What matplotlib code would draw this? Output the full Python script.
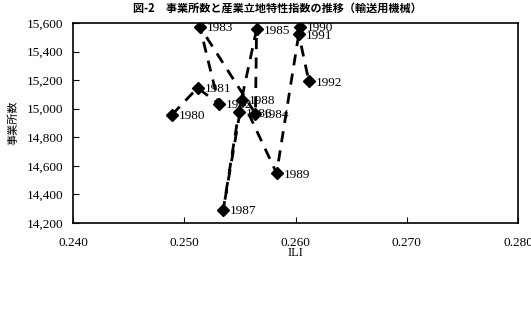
import matplotlib
matplotlib.use("Agg")
import matplotlib.pyplot as plt
from matplotlib.ticker import FuncFormatter

plt.rcParams['font.family'] = ['Liberation Serif', 'Noto Sans CJK JP']

# 年ごとの ILI と事業所数
years = [1980, 1981, 1982, 1983, 1984, 1985, 1986, 1987, 1988, 1989, 1990, 1991, 1992]
ili = [0.2489, 0.2512, 0.2531, 0.2514, 0.2564, 0.2565, 0.2549, 0.2535, 0.2552,
       0.2583, 0.2604, 0.2603, 0.2612]
establishments = [14958, 15146, 15033, 15574, 14965, 15555, 14974, 14291, 15063,
                  14549, 15574, 15520, 15192]

x_ticks = [0.240, 0.250, 0.260, 0.270, 0.280]
y_ticks = [14200, 14400, 14600, 14800, 15000, 15200, 15400, 15600]

fig = plt.figure(figsize=(5.31, 3.23), dpi=100)
ax = fig.add_axes([73 / 531, 1 - 223 / 323, 445 / 531, 200 / 323])

ax.plot(ili, establishments, color='black', lw=2, linestyle=(0, (4, 3)),
        marker='D', markersize=6, markerfacecolor='black', markeredgecolor='black')

for yr, x, y in zip(years, ili, establishments):
    ax.annotate(str(yr), (x, y), xytext=(5, -1), textcoords='offset points',
                va='center', ha='left', fontsize=9.5)

ax.set_xlim(0.240, 0.280)
ax.set_ylim(14200, 15600)
ax.set_xticks(x_ticks)
ax.set_yticks(y_ticks)
ax.xaxis.set_major_formatter(FuncFormatter(lambda v, p: f"{v:.3f}"))
ax.yaxis.set_major_formatter(FuncFormatter(lambda v, p: f"{v:,.0f}"))
ax.tick_params(direction='in', length=4, labelsize=9.5)
ax.tick_params(axis='x', pad=10)
ax.tick_params(axis='y', pad=7)
for s in ax.spines.values():
    s.set_linewidth(1.2)

ax.set_xlabel('ILI', fontsize=9, labelpad=-1)
ax.set_ylabel('事業所数', fontsize=8, family=['Noto Sans CJK JP'], labelpad=6)

fig.text(277 / 531, 1 - 8 / 323, '図-2　事業所数と産業立地特性指数の推移（輸送用機械）',
         ha='center', va='center', fontsize=8, family=['Noto Sans CJK JP'],
         fontweight='bold')

fig.savefig('out.png', dpi=100)
